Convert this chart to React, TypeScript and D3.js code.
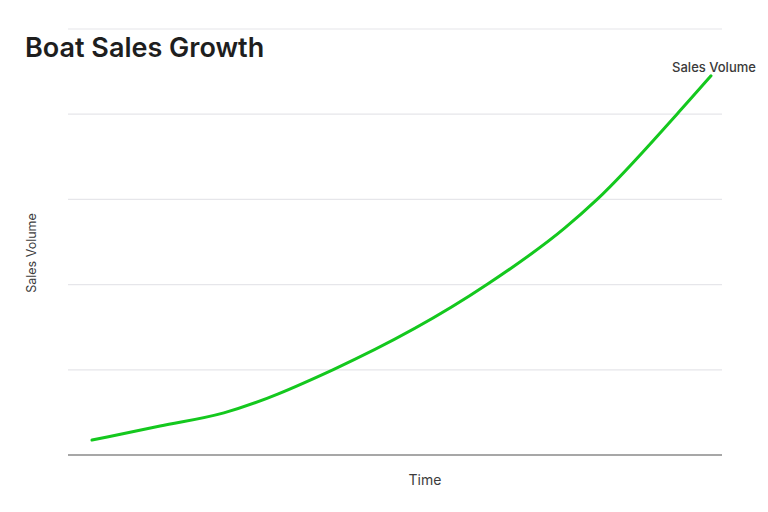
import React from "react";
import * as d3 from "d3";

const timePoints: number[] = [0, 1.1, 2.13, 3.89, 6.38, 7.64, 8.16, 9.45, 10];
const salesVolume: number[] = [3.5, 6.8, 9.9, 20, 40, 53.3, 60, 80, 89];
const gridTicks: number[] = [0, 20, 40, 60, 80, 100];
const titleText = "Boat Sales Growth";
const seriesName = "Sales Volume";
const xLabel = "Time";
const yLabel = "Sales Volume";

const W = 768;
const H = 512;
const plotLeft = 68;
const plotRight = 722;

export default function App() {
  const x = d3.scaleLinear().domain([0, 10]).range([92, 711]);
  const y = d3.scaleLinear().domain([0, 100]).range([455, 29]);
  const data = timePoints.map((t, i) => ({ t, v: salesVolume[i] }));
  const line = d3
    .line<{ t: number; v: number }>()
    .x((d) => x(d.t))
    .y((d) => y(d.v))
    .curve(d3.curveMonotoneX);
  const last = data[data.length - 1];
  const font = "Inter, 'Noto Sans', sans-serif";
  return (
    <svg
      width={W}
      height={H}
      style={{ position: "absolute", left: 0, top: 0, background: "#fff" }}
      fontFamily={font}
    >
      <rect width={W} height={H} fill="#fff" />
      {gridTicks.slice(1).map((g) => (
        <line
          key={g}
          x1={plotLeft}
          x2={plotRight}
          y1={y(g)}
          y2={y(g)}
          stroke="#e6e6ea"
          strokeWidth={1.2}
        />
      ))}
      <line
        x1={plotLeft}
        x2={plotRight}
        y1={y(0)}
        y2={y(0)}
        stroke="#8a8a8a"
        strokeWidth={1.6}
      />
      <path d={line(data) || ""} fill="none" stroke="#14c81e" strokeWidth={3} strokeLinecap="round" />
      <text x={25} y={57} fontSize={27} fontWeight={600} fill="#1e1e1e">
        {titleText}
      </text>
      <text
        x={x(last.t) + 3}
        y={72}
        fontSize={13}
        fontWeight={500}
        fill="#3a3a3a"
        textAnchor="middle"
      >
        {seriesName}
      </text>
      <text
        x={425}
        y={485}
        fontSize={14}
        fill="#3c3c3c"
        textAnchor="middle"
      >
        {xLabel}
      </text>
      <text
        transform={`translate(36, 253) rotate(-90)`}
        fontSize={12.5}
        fill="#3c3c3c"
        textAnchor="middle"
      >
        {yLabel}
      </text>
    </svg>
  );
}
